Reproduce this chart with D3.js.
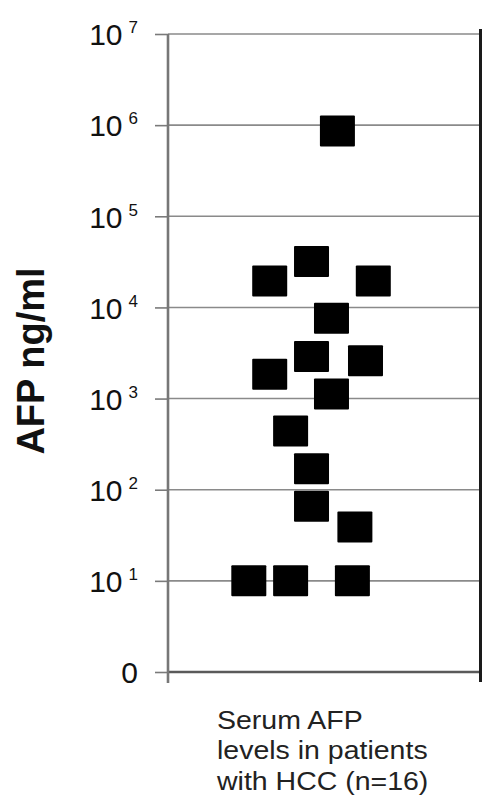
<!DOCTYPE html>
<html>
<head>
<meta charset="utf-8">
<script src="https://cdn.jsdelivr.net/npm/d3@7"></script>
<style>
  body { margin: 0; background: #fff; }
  text { font-family: Arial, "Liberation Sans", sans-serif; }
</style>
</head>
<body>
<div id="graph"></div>
<script>
"use strict"

// serum AFP (ng/ml) for each patient
var afpValues = [860000, 32000, 19500, 19500, 7600, 2900, 2600, 1850, 1120, 440, 170, 66, 39, 10, 10, 10]
// horizontal scatter of each square inside the single category (0..1 across the box)
var jitter = [0.543, 0.460, 0.326, 0.658, 0.524, 0.460, 0.633, 0.326, 0.524, 0.393, 0.460, 0.460, 0.599, 0.259, 0.393, 0.591]
var tickValues = [1, 10, 100, 1000, 10000, 100000, 1000000, 10000000]
var yLabel = "AFP ng/ml"
var categoryLines = ["Serum AFP", "levels in patients", "with HCC (n=16)"]

var width = 483, height = 799
var margin = {top: 34, left: 168, right: 2, bottom: 127}

main()

function main() {
    var svg = d3.select("#graph").append("svg")
        .attr("width", width)
        .attr("height", height)

    var y = d3.scaleLog()
        .domain([1, 1e7])
        .range([height - margin.bottom, margin.top])

    var x = d3.scaleLinear()
        .domain([0, 1])
        .range([margin.left, width - margin.right - 1])

    // gridlines
    svg.append("g")
        .selectAll("line")
        .data(tickValues.slice(1))
        .enter().append("line")
        .attr("x1", margin.left)
        .attr("x2", x(1))
        .attr("y1", function(d) { return y(d) })
        .attr("y2", function(d) { return y(d) })
        .attr("stroke", "#8a8a8a")
        .attr("stroke-width", 1.6)

    // x axis baseline
    svg.append("line")
        .attr("x1", margin.left)
        .attr("x2", x(1))
        .attr("y1", y(1))
        .attr("y2", y(1))
        .attr("stroke", "#5a5a5a")
        .attr("stroke-width", 2.6)

    // right frame
    svg.append("line")
        .attr("x1", x(1) + 0.5)
        .attr("x2", x(1) + 0.5)
        .attr("y1", margin.top - 5)
        .attr("y2", y(1) + 10)
        .attr("stroke", "#1a1a1a")
        .attr("stroke-width", 3)

    // y axis
    var yAxis = d3.axisLeft(y)
        .tickValues(tickValues)
        .tickSize(13)
        .tickPadding(30)
        .tickFormat(function() { return "" })

    var axisG = svg.append("g")
        .attr("transform", "translate(" + margin.left + ",0)")
        .call(yAxis)

    axisG.select(".domain").remove()
    axisG.selectAll(".tick line")
        .attr("stroke", "#7a7a7a")
        .attr("stroke-width", 1.6)

    axisG.append("line")
        .attr("x1", 0).attr("x2", 0)
        .attr("y1", margin.top)
        .attr("y2", y(1) + 11)
        .attr("stroke", "#777")
        .attr("stroke-width", 2.6)

    axisG.selectAll(".tick text")
        .attr("x", -30)
        .attr("dy", "0.36em")
        .attr("fill", "#111")
        .style("font-size", "30px")
        .each(function(d) {
            var t = d3.select(this)
            if (d === 1) {
                t.text("0")
                return
            }
            t.append("tspan").text("10")
            t.append("tspan")
                .attr("dx", 6)
                .attr("dy", -12)
                .style("font-size", "17px")
                .text(Math.round(Math.log10(d)))
        })

    // y label
    svg.append("text")
        .attr("transform", "translate(44," + 361 + ") rotate(-90)")
        .attr("text-anchor", "middle")
        .style("font-size", "38px")
        .style("font-weight", "bold")
        .attr("fill", "#111")
        .text(yLabel)

    // squares
    var boxW = 35, boxH = 31
    svg.append("g")
        .selectAll("rect")
        .data(afpValues)
        .enter().append("rect")
        .attr("x", function(d, i) { return x(jitter[i]) - boxW / 2 })
        .attr("y", function(d) { return y(d) - boxH / 2 })
        .attr("width", boxW)
        .attr("height", boxH)
        .attr("rx", 1)
        .attr("fill", "#000")

    // category label
    var cat = svg.append("g")
        .attr("transform", "translate(217,729) scale(1.14,1)")
    cat.selectAll("text")
        .data(categoryLines)
        .enter().append("text")
        .attr("x", 0)
        .attr("y", function(d, i) { return i * 30.5 })
        .style("font-size", "25px")
        .attr("fill", "#222")
        .text(function(d) { return d })
}
</script>
</body>
</html>
